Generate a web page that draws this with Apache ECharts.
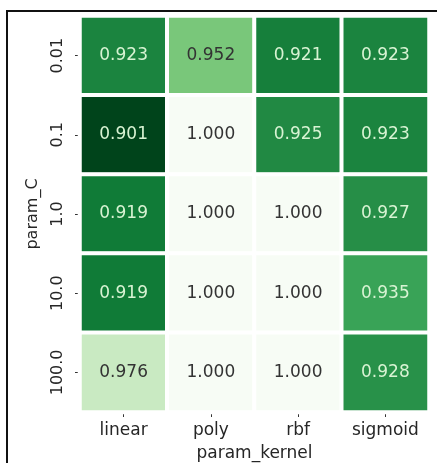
<!DOCTYPE html>
<html>
<head>
<meta charset="utf-8">
<script src="https://cdn.jsdelivr.net/npm/echarts@6/dist/echarts.min.js"></script>
<style>
  html, body { margin: 0; padding: 0; background: #ffffff; }
  #chart { width: 437px; height: 463px; }
</style>
</head>
<body>
<div id="chart"></div>
<script>
// Grid-search accuracy for an SVM: kernel (columns) by C (rows)
const kernels = ['linear', 'poly', 'rbf', 'sigmoid'];
const cValues = ['0.01', '0.1', '1.0', '10.0', '100.0'];

// mean test score per kernel, listed in the order of cValues
const linearScores  = [0.923, 0.901, 0.919, 0.919, 0.976];
const polyScores    = [0.952, 1.000, 1.000, 1.000, 1.000];
const rbfScores     = [0.921, 0.925, 1.000, 1.000, 1.000];
const sigmoidScores = [0.923, 0.923, 0.927, 0.935, 0.928];

const scoreColumns = [linearScores, polyScores, rbfScores, sigmoidScores];

// reversed "Greens" ramp: lowest score darkest
const greensReversed = ['#00441b', '#006d2c', '#238b45', '#41ab5d', '#74c476',
                        '#a1d99b', '#c7e9c0', '#e5f5e0', '#f7fcf5'];

const allScores = scoreColumns.flat();
const vMin = Math.min(...allScores);
const vMax = Math.max(...allScores);

const FONT = 'DejaVu Sans';

const cells = [];
scoreColumns.forEach((col, xi) => {
  col.forEach((v, yi) => {
    // dark text on pale cells, light text on dark cells
    const pale = (v - vMin) / (vMax - vMin) > 0.45;
    cells.push({
      value: [xi, yi, v],
      label: { color: pale ? '#333333' : '#d8f3d3' }
    });
  });
});

const chart = echarts.init(document.getElementById('chart'));
chart.setOption({
  animation: false,
  backgroundColor: '#ffffff',
  grid: { left: 80, right: 8, top: 16, bottom: 51, containLabel: false, outerBoundsMode: 'none' },
  xAxis: {
    type: 'category',
    data: kernels,
    name: 'param_kernel',
    nameLocation: 'middle',
    nameGap: 33,
    nameTextStyle: { fontFamily: FONT, fontSize: 17, color: '#262626' },
    axisLine: { show: false },
    axisTick: { show: true, alignWithLabel: true, length: 5, lineStyle: { color: '#333', width: 1 } },
    axisLabel: { fontFamily: FONT, fontSize: 17, color: '#262626', margin: 10 },
    splitLine: { show: false }
  },
  yAxis: {
    type: 'category',
    data: cValues,
    inverse: true,
    name: 'param_C',
    nameLocation: 'middle',
    nameGap: 39,
    nameRotate: 90,
    nameTextStyle: { fontFamily: FONT, fontSize: 16, color: '#262626' },
    axisLine: { show: false },
    axisTick: { show: true, alignWithLabel: true, length: 5, lineStyle: { color: '#333', width: 1 } },
    axisLabel: { fontFamily: FONT, fontSize: 16, color: '#262626', rotate: 90, margin: 14 },
    splitLine: { show: false }
  },
  visualMap: {
    show: false,
    type: 'continuous',
    min: vMin,
    max: vMax,
    dimension: 2,
    inRange: { color: greensReversed }
  },
  series: [{
    type: 'heatmap',
    data: cells,
    itemStyle: { borderColor: '#ffffff', borderWidth: 4 },
    label: {
      show: true,
      fontFamily: FONT,
      fontSize: 17,
      formatter: p => p.value[2].toFixed(3)
    },
    emphasis: { disabled: true }
  }],
  graphic: [
    {
      type: 'line',
      shape: { x1: 7, y1: 10, x2: 7, y2: 463 },
      style: { stroke: '#111111', lineWidth: 2 },
      silent: true
    },
    {
      type: 'line',
      shape: { x1: 6, y1: 11, x2: 437, y2: 11 },
      style: { stroke: '#111111', lineWidth: 2 },
      silent: true
    }
  ]
});
</script>
</body>
</html>
